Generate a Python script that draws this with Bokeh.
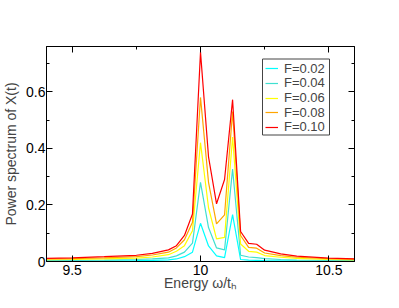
from bokeh.plotting import figure
from bokeh.models import FixedTicker, LinearAxis, Legend, LegendItem, Range1d, BoxAnnotation
from bokeh.embed import file_html
from bokeh.resources import INLINE

# ---- data ----
energy = [9.375, 9.5, 9.625, 9.75, 9.8125, 9.875, 9.90625, 9.9375, 9.96875,
          10.0, 10.03125, 10.0625, 10.09375, 10.125, 10.15625, 10.1875,
          10.21875, 10.25, 10.3125, 10.375, 10.5, 10.625]
f002 = [0.001, 0.0015, 0.002, 0.003, 0.004, 0.006, 0.009, 0.017, 0.033,
        0.135, 0.055, 0.020, 0.014, 0.166, 0.007, 0.005,
        0.004, 0.003, 0.0025, 0.002, 0.0015, 0.001]
f004 = [0.003, 0.004, 0.005, 0.007, 0.009, 0.013, 0.020, 0.033, 0.065,
        0.280, 0.120, 0.048, 0.041, 0.327, 0.022, 0.016,
        0.014, 0.010, 0.007, 0.005, 0.004, 0.003]
f006 = [0.006, 0.007, 0.009, 0.012, 0.016, 0.024, 0.036, 0.056, 0.109,
        0.420, 0.190, 0.080, 0.085, 0.440, 0.062, 0.036,
        0.033, 0.021, 0.015, 0.011, 0.007, 0.005]
f008 = [0.009, 0.010, 0.013, 0.017, 0.023, 0.033, 0.048, 0.077, 0.139,
        0.580, 0.280, 0.133, 0.165, 0.530, 0.092, 0.050,
        0.047, 0.030, 0.021, 0.015, 0.010, 0.007]
f010 = [0.011, 0.013, 0.017, 0.022, 0.029, 0.041, 0.056, 0.092, 0.168,
        0.740, 0.370, 0.204, 0.290, 0.572, 0.106, 0.064,
        0.061, 0.040, 0.027, 0.019, 0.012, 0.009]
series = [f002, f004, f006, f008, f010]
labels = ["F=0.02", "F=0.04", "F=0.06", "F=0.08", "F=0.10"]
colors = ["#00ffff", "#40e0d0", "#ffff00", "#ffa500", "#ff0000"]

x_ticks = [9.5, 10.0, 10.5]
x_tick_labels = ["9.5", "10", "10.5"]
x_minor = [9.25, 9.75, 10.25, 10.75]
y_ticks = [0.0, 0.2, 0.4, 0.6]
y_tick_labels = ["0", "0.2", "0.4", "0.6"]
y_minor = [0.1, 0.3, 0.5, 0.7]

FONT = "Liberation Sans"

p = figure(width=399, height=308, output_backend="svg", toolbar_location=None,
           x_range=Range1d(9.4, 10.6), y_range=Range1d(0, 0.76),
           min_border_left=46, min_border_right=45, min_border_top=46,
           min_border_bottom=47, x_axis_location=None, y_axis_location=None)
p.grid.visible = False
p.outline_line_color = "black"
p.outline_line_width = 1
p.background_fill_color = "white"
p.border_fill_color = "white"

def style(ax, ticks, minor, lab, show):
    ax.ticker = FixedTicker(ticks=ticks, minor_ticks=minor)
    ax.major_label_overrides = {t: l for t, l in zip(ticks, lab)}
    ax.major_tick_in = 6
    ax.major_tick_out = 0
    ax.minor_tick_in = 3
    ax.minor_tick_out = 0
    ax.axis_line_color = "black"
    ax.major_tick_line_color = "black"
    ax.minor_tick_line_color = "black"
    ax.major_label_text_font = FONT
    ax.major_label_text_font_size = "14px"
    ax.major_label_text_color = "black" if show else None
    ax.major_label_standoff = 2
    ax.axis_label_text_font = FONT
    ax.axis_label_text_font_size = "14px"
    ax.axis_label_text_font_style = "normal"
    ax.axis_label_standoff = 4

xb = LinearAxis(axis_label="Energy \u03c9/t\u2095")
style(xb, x_ticks, x_minor, x_tick_labels, True)
xb.major_label_standoff = 3
xb.axis_label_standoff = -3
p.add_layout(xb, "below")
xt = LinearAxis()
style(xt, x_ticks, x_minor, x_tick_labels, False)
p.add_layout(xt, "above")
yl = LinearAxis(axis_label="Power spectrum of X(t)")
style(yl, y_ticks, y_minor, y_tick_labels, True)
yl.major_label_standoff = 1
p.add_layout(yl, "left")
yr = LinearAxis()
style(yr, y_ticks, y_minor, y_tick_labels, False)
p.add_layout(yr, "right")

renderers = []
for ys, col in zip(series, colors):
    renderers.append(p.line(energy, ys, line_color=col, line_width=1.2))

# legend frame (screen units, relative to the plot frame)
box = BoxAnnotation(left=216, right=283, bottom=126.5, top=202.5,
                    left_units="screen", right_units="screen",
                    bottom_units="screen", top_units="screen",
                    fill_color="white", fill_alpha=1.0,
                    line_color="#444444", line_width=1, line_alpha=1.0)
p.add_layout(box, "center")

row_h = 14.6
for i, (r, lab) in enumerate(zip(renderers, labels)):
    lg = Legend(items=[LegendItem(label=lab, renderers=[r])],
                location=(219, 182.7 - row_h * i))
    lg.label_text_font = FONT
    lg.label_text_font_size = "13px"
    lg.glyph_width = 13
    lg.glyph_height = 20
    lg.label_height = 20
    lg.label_standoff = 6
    lg.spacing = 0
    lg.padding = 0
    lg.margin = 0
    lg.border_line_color = None
    lg.background_fill_alpha = 0
    p.add_layout(lg, "center")

open("out.html", "w").write(file_html(p, INLINE))
